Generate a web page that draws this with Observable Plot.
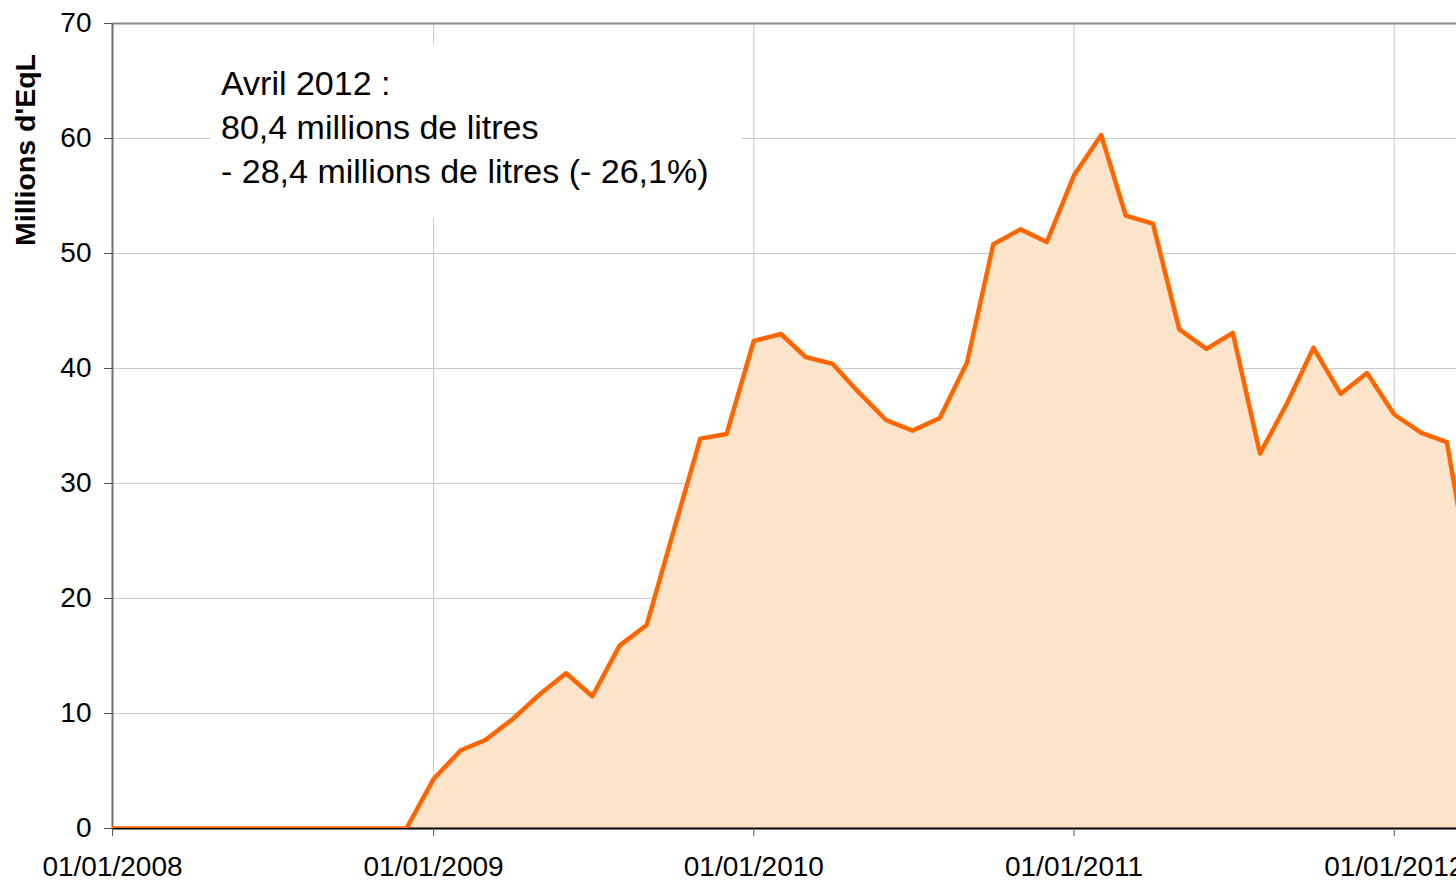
<!DOCTYPE html>
<html>
<head>
<meta charset="utf-8">
<script src="https://cdn.jsdelivr.net/npm/d3@7"></script>
<script src="https://cdn.jsdelivr.net/npm/@observablehq/plot@0.6"></script>
<style>
  html, body { margin: 0; padding: 0; background: #fff; }
  #wrap { position: relative; width: 1456px; height: 882px; overflow: hidden; font-family: Arial, "Liberation Sans", sans-serif; }
  #note { position: absolute; left: 210px; top: 44px; width: 532px; height: 174px; background: #fff;
          font-size: 34px; line-height: 44px; color: #000; box-sizing: border-box; padding: 17px 0 0 11px; white-space: nowrap; }
  #ylab { position: absolute; left: 25px; top: 150px; transform: translate(-50%, -50%) rotate(-90deg);
          font-size: 28.5px; font-weight: bold; white-space: nowrap; color: #000; }
</style>
</head>
<body>
<div id="wrap"></div>
<script>
// Monthly values, Jan 2008 .. Apr 2012 (millions d'EqL)
const months = [
  "2008-01","2008-02","2008-03","2008-04","2008-05","2008-06","2008-07","2008-08","2008-09","2008-10","2008-11","2008-12",
  "2009-01","2009-02","2009-03","2009-04","2009-05","2009-06","2009-07","2009-08","2009-09","2009-10","2009-11","2009-12",
  "2010-01","2010-02","2010-03","2010-04","2010-05","2010-06","2010-07","2010-08","2010-09","2010-10","2010-11","2010-12",
  "2011-01","2011-02","2011-03","2011-04","2011-05","2011-06","2011-07","2011-08","2011-09","2011-10","2011-11","2011-12",
  "2012-01","2012-02","2012-03","2012-04"
];
const values = [
  0,0,0,0,0,0,0,0,0,0,0,0,
  4.3,6.8,7.7,9.5,11.6,13.5,11.5,15.9,17.7,25.7,33.9,34.3,
  42.4,43.0,41.0,40.4,37.9,35.5,34.6,35.7,40.5,50.8,52.1,51.0,
  56.8,60.3,53.3,52.6,43.4,41.7,43.1,32.6,37.0,41.8,37.8,39.6,
  36.0,34.4,33.6,20.0
];
const yTicks = [0,10,20,30,40,50,60,70];
const xTickYears = ["2008-01-01","2009-01-01","2010-01-01","2011-01-01","2012-01-01"];
const noteLines = ["Avril 2012 :", "80,4 millions de litres", "- 28,4 millions de litres (- 26,1%)"];
const yLabel = "Millions d'EqL";

const data = months.map((m, i) => ({date: new Date(m + "-01T00:00:00Z"), value: values[i]}));
const xTicks = xTickYears.map(s => new Date(s + "T00:00:00Z"));
const xStart = new Date("2008-01-01T00:00:00Z");
const xEnd = new Date("2012-03-12T00:00:00Z");
const fmt = d3.utcFormat("%d/%m/%Y");

const chart = Plot.plot({
  width: 1456,
  height: 882,
  marginLeft: 112,
  marginRight: 0,
  marginTop: 23,
  marginBottom: 54,
  style: {fontFamily: 'Arial, "Liberation Sans", sans-serif', fontSize: "28px", color: "#000", background: "#fff"},
  x: {type: "utc", domain: [xStart, xEnd]},
  y: {domain: [0, 70]},
  marks: [
    Plot.gridY(yTicks, {stroke: "#c8c8c8", strokeOpacity: 1, strokeWidth: 1}),
    Plot.gridX(xTicks, {stroke: "#c8c8c8", strokeOpacity: 1, strokeWidth: 1}),
    Plot.areaY(data, {x: "date", y: "value", fill: "#fde3c9", clip: true}),
    Plot.ruleY([70], {stroke: "#8a8a8a", strokeWidth: 2}),
    Plot.ruleX([xStart], {stroke: "#707070", strokeWidth: 2}),
    Plot.ruleY([0], {stroke: "#000", strokeWidth: 2}),
    Plot.line(data, {x: "date", y: "value", stroke: "#ff6600", strokeWidth: 4.5, strokeLinejoin: "round", clip: true}),
    Plot.axisY(yTicks, {tickSize: 8, tickPadding: 13, label: null, stroke: "#555", fontSize: 28}),
    Plot.axisX(xTicks, {tickSize: 8, tickPadding: 20, label: null, tickFormat: fmt, stroke: "#555", fontSize: 28})
  ]
});

const wrap = document.getElementById("wrap");
wrap.appendChild(chart);
const note = document.createElement("div");
note.id = "note";
note.innerHTML = noteLines.map(s => `<div>${s}</div>`).join("");
wrap.appendChild(note);
const yl = document.createElement("div");
yl.id = "ylab";
yl.textContent = yLabel;
wrap.appendChild(yl);
</script>
</body>
</html>
